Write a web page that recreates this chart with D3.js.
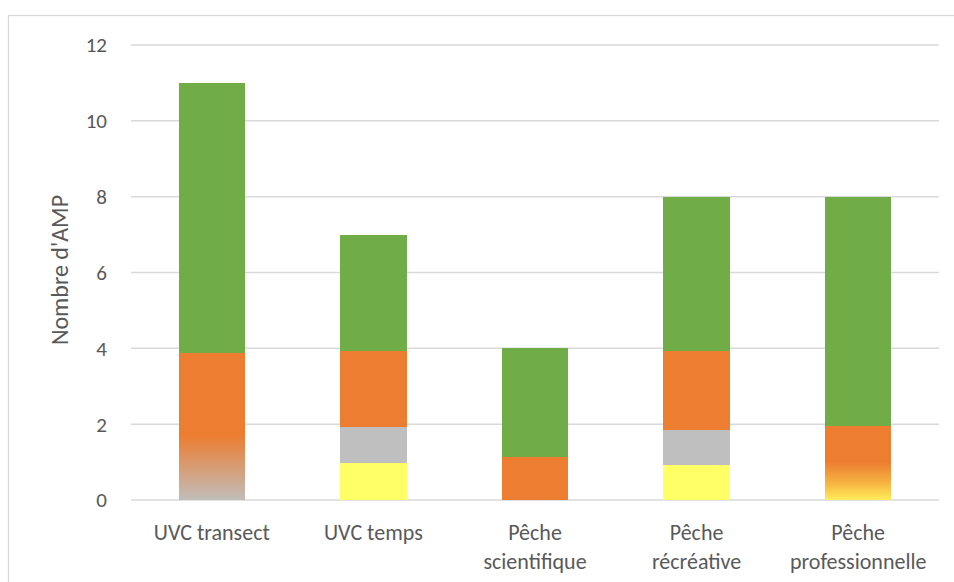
<!DOCTYPE html>
<html>
<head>
<meta charset="utf-8">
<script src="https://cdn.jsdelivr.net/npm/d3@7"></script>
<style>
  html, body { margin: 0; padding: 0; background: #fff; }
  svg { display: block; font-family: Carlito, Lato, "Open Sans", sans-serif; }
</style>
</head>
<body>
<div id="chart"></div>
<script>
// categories (label lines) and stacked segment values
var categories = ["UVC transect", "UVC temps", "Pêche scientifique", "Pêche récréative", "Pêche professionnelle"];
var categoryLines = [["UVC transect"], ["UVC temps"], ["Pêche", "scientifique"], ["Pêche", "récréative"], ["Pêche", "professionnelle"]];

var jauneOrange = [0, 0, 0, 0, 1.0];
var grisOrange  = [1.7, 0, 0, 0, 0];
var jaune       = [0, 0.97, 0, 0.93, 0];
var gris        = [0, 0.95, 0, 0.92, 0];
var orange      = [2.17, 2.0, 1.13, 2.07, 0.95];
var vert        = [7.13, 3.08, 2.87, 4.08, 6.05];

var yTicks = [0, 2, 4, 6, 8, 10, 12];
var yTitle = "Nombre d'AMP";

var keys = ["jauneOrange", "grisOrange", "jaune", "gris", "orange", "vert"];
var seriesValues = {jauneOrange: jauneOrange, grisOrange: grisOrange, jaune: jaune, gris: gris, orange: orange, vert: vert};

var rows = categories.map(function(c, i) {
  var r = {cat: c};
  keys.forEach(function(k) { r[k] = seriesValues[k][i]; });
  return r;
});

var width = 954, height = 582,
    plotLeft = 131, plotRight = 939, plotTop = 45, plotBottom = 500;

var fills = {
  jauneOrange: "url(#gradJauneOrange)",
  grisOrange: "url(#gradGrisOrange)",
  jaune: "#FFFF66",
  gris: "#BFBFBF",
  orange: "#ED7D31",
  vert: "#70AD47"
};

var svg = d3.select("#chart")
            .append("svg")
            .attr("width", width)
            .attr("height", height);

var defs = svg.append("defs");

var g1 = defs.append("linearGradient")
             .attr("id", "gradJauneOrange")
             .attr("x1", 0).attr("y1", 1).attr("x2", 0).attr("y2", 0);
g1.append("stop").attr("offset", "0%").attr("stop-color", "#FFEC5A");
g1.append("stop").attr("offset", "45%").attr("stop-color", "#F6B441");
g1.append("stop").attr("offset", "100%").attr("stop-color", "#ED7D31");

var g2 = defs.append("linearGradient")
             .attr("id", "gradGrisOrange")
             .attr("x1", 0).attr("y1", 1).attr("x2", 0).attr("y2", 0);
g2.append("stop").attr("offset", "0%").attr("stop-color", "#C0BDBA");
g2.append("stop").attr("offset", "100%").attr("stop-color", "#ED7D31");

svg.append("rect")
   .attr("width", width)
   .attr("height", height)
   .attr("fill", "#fff");

// chart area border (continues past right and bottom edges)
svg.append("rect")
   .attr("x", 8.5)
   .attr("y", 15.5)
   .attr("width", 1000)
   .attr("height", 700)
   .attr("fill", "none")
   .attr("stroke", "#D9D9D9")
   .attr("stroke-width", 1.3);

var x = d3.scaleBand()
          .domain(categories)
          .range([plotLeft, plotRight])
          .paddingInner(0.59)
          .paddingOuter(0.295);

var y = d3.scaleLinear()
          .domain([0, 12])
          .range([plotBottom, plotTop]);

// gridlines
svg.append("g")
   .selectAll("line")
   .data(yTicks)
   .enter()
   .append("line")
   .attr("x1", plotLeft)
   .attr("x2", plotRight)
   .attr("y1", function(d) { return y(d); })
   .attr("y2", function(d) { return y(d); })
   .attr("stroke", "#D9D9D9")
   .attr("stroke-width", 1.5);

// y tick labels
svg.append("g")
   .selectAll("text")
   .data(yTicks)
   .enter()
   .append("text")
   .attr("x", 107)
   .attr("y", function(d) { return y(d); })
   .attr("dy", "0.35em")
   .attr("text-anchor", "end")
   .style("font-size", "21px")
   .style("fill", "#595959")
   .text(function(d) { return d; });

// stacked bars
var stacked = d3.stack().keys(keys)(rows);

svg.append("g")
   .attr("shape-rendering", "crispEdges")
   .selectAll("g")
   .data(stacked)
   .enter()
   .append("g")
   .attr("fill", function(d) { return fills[d.key]; })
   .selectAll("rect")
   .data(function(d) { return d; })
   .enter()
   .append("rect")
   .attr("x", function(d) { return x(d.data.cat); })
   .attr("width", x.bandwidth())
   .attr("y", function(d) { return y(d[1]); })
   .attr("height", function(d) { return Math.max(0, y(d[0]) - y(d[1])); });

// category labels
var labels = svg.append("g")
                .selectAll("text")
                .data(categories)
                .enter()
                .append("text")
                .attr("x", function(d) { return x(d) + x.bandwidth() / 2; })
                .attr("y", 540)
                .attr("text-anchor", "middle")
                .style("font-size", "22px")
                .style("fill", "#595959");

labels.selectAll("tspan")
      .data(function(d, i) { return categoryLines[i]; })
      .enter()
      .append("tspan")
      .attr("x", function() { return d3.select(this.parentNode).attr("x"); })
      .attr("dy", function(d, i) { return i === 0 ? 0 : 29; })
      .text(function(d) { return d; });

// y axis title
svg.append("text")
   .attr("transform", "translate(68,270) rotate(-90)")
   .attr("text-anchor", "middle")
   .style("font-size", "24px")
   .style("fill", "#595959")
   .text(yTitle);
</script>
</body>
</html>
